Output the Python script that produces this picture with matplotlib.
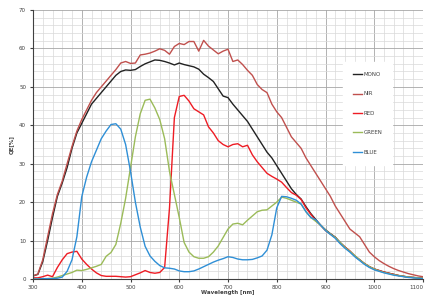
import matplotlib
matplotlib.use('Agg')
import matplotlib.pyplot as plt
import numpy as np

# wavelength grid [nm]
wl = list(range(300, 1110, 10))

tail = [11.8, 10.9, 9.5, 8.3, 7.2, 6.0, 5.0, 4.0, 3.2, 2.6,
        2.2, 1.8, 1.5, 1.2, 0.9, 0.7, 0.5, 0.4, 0.3, 0.2]

mono = [0.8, 1.2, 4.5, 10, 16, 21.5, 25, 29, 34, 38,
        40.5, 43, 45.5, 47, 48.5, 50, 51.5, 53, 54, 54.4,
        54.3, 54.5, 55.3, 56, 56.5, 57, 56.9, 56.6, 56.2, 55.7,
        56.2, 55.8, 55.5, 55.2, 54.6, 53.3, 52.4, 51.4, 49.5, 47.6,
        47.2, 45.5, 44, 42.5, 41, 39, 37, 35, 33, 31.5,
        29.5, 27.5, 25.5, 23.5, 22, 20.8, 18.8, 17, 15.5, 14,
        12.8] + tail

nir = [0.8, 1.3, 5, 11, 17, 22, 25.5, 30, 34.5, 38.5,
       41.5, 44, 46.5, 48.5, 50, 51.5, 53, 54.5, 56.2, 56.6,
       56.1, 56.2, 58.3, 58.5, 58.8, 59.3, 59.9, 59.5, 58.5, 60.5,
       61.3, 61, 61.8, 61.8, 59.3, 62.1, 60.6, 59.6, 58.6, 59.3,
       59.8, 56.6, 57, 55.8, 54.3, 53, 50.6, 49.3, 48.5, 45.5,
       43.5, 42, 39.5, 37, 35.5, 34, 31.5, 29.5, 27.5, 25.5,
       23.5, 21.5, 19, 17, 15, 13, 12, 11, 9, 7,
       5.8, 4.8, 4, 3.3, 2.7, 2.2, 1.8, 1.4, 1.1, 0.8, 0.6]

red = [0.3, 0.3, 0.6, 1.0, 0.6, 3, 5, 6.6, 7, 7.2,
       5.2, 3.8, 2.6, 1.6, 0.9, 0.7, 0.7, 0.7, 0.6, 0.5,
       0.6, 1.1, 1.6, 2.2, 1.7, 1.5, 1.7, 3, 18.5, 42,
       47.5, 47.8, 46.3, 44.3, 43.5, 42.7, 39.6, 38, 36, 35,
       34.4, 35, 35.2, 34.4, 34.8, 32.3, 30.5, 29, 27.5, 26.7,
       26, 25.2, 23.8, 22.5, 21.8, 20.7, 18.5, 16.8, 15.2, 14,
       12.6, 11.7, 10.8, 9.4, 8.3, 7.3, 6.0, 5.0, 4.0, 3.2,
       2.6, 2.2, 1.8, 1.5, 1.2, 0.9, 0.7, 0.5, 0.4, 0.3, 0.2]

green = [0, 0, 0, 0.1, 0.2, 0.5, 0.9, 1.3, 1.7, 2.3,
         2.2, 2.5, 2.9, 3.3, 3.8, 5.9, 6.9, 9.0, 14.5, 21,
         29, 37, 43, 46.5, 46.8, 44.5, 41.5, 36.5, 28, 22,
         16, 9.5, 7, 5.8, 5.4, 5.4, 5.8, 7, 8.6, 10.8,
         13, 14.3, 14.5, 14.1, 15.3, 16.4, 17.5, 17.9, 18, 19,
         20, 21.3, 21, 20.5, 20, 19.5, 17.5, 16, 15, 14,
         12.7, 11.7, 10.8, 9.5, 8.2, 7.2, 6.1, 5.0, 4.0, 3.2,
         2.6, 2.1, 1.7, 1.4, 1.1, 0.9, 0.7, 0.5, 0.4, 0.3, 0.2]

blue = [0, 0, 0.1, 0.1, 0.1, 0.2, 0.5, 2, 5, 11,
        21.4, 26.5, 30.5, 33.5, 36.5, 38.5, 40.2, 40.4, 39, 35,
        28, 20, 13.5, 8.5, 6, 4.6, 3.5, 2.9, 2.8, 2.6,
        2.1, 1.9, 1.9, 2.1, 2.6, 3.2, 3.8, 4.4, 4.9, 5.3,
        5.8, 5.6, 5.2, 5, 5, 5.1, 5.5, 6, 7.5, 11.5,
        18.5, 21.5, 21.4, 21, 20.5, 19.5, 17.5, 16, 15.4, 14,
        12.6, 11.6, 10.6, 9.2, 8.0, 7.0, 5.8, 4.8, 3.8, 3.0,
        2.4, 2.0, 1.6, 1.3, 1.0, 0.8, 0.6, 0.4, 0.3, 0.2, 0.1]

labels = ['MONO', 'NIR', 'RED', 'GREEN', 'BLUE']
colors = ['#222222', '#c0504d', '#ee1c24', '#9bbb59', '#2f8fd6']

fig = plt.figure(figsize=(4.27, 2.96), dpi=100)
ax = fig.add_axes([33/427, 17/296, 390/427, 269/296])

for y, lab, c in zip([mono, nir, red, green, blue], labels, colors):
    ax.plot(wl, y, color=c, lw=1.0, label=lab)

ax.set_xlim(300, 1100)
ax.set_ylim(0, 70)
ax.set_xticks(np.arange(300, 1101, 100))
ax.set_yticks(np.arange(0, 71, 10))
ax.set_xticks(np.arange(300, 1101, 20), minor=True)
ax.set_yticks(np.arange(0, 71, 2), minor=True)
ax.grid(which='major', color='#a6a6a6', lw=0.6)
ax.grid(which='minor', color='#d9d9d9', lw=0.5)
ax.set_axisbelow(True)
ax.tick_params(which='both', length=0, labelsize=4, colors='#404040')
ax.tick_params(which='major', length=2, color='#404040')
ax.tick_params(axis='x', pad=2)
ax.tick_params(axis='y', pad=3)

# keep the last x label inside the picture
ax.get_xticklabels()[-1].set_horizontalalignment('right')

for s in ['top', 'right']:
    ax.spines[s].set_visible(False)
for s in ['left', 'bottom']:
    ax.spines[s].set_color('#404040')
    ax.spines[s].set_linewidth(0.8)

ax.set_xlabel('Wavelength [nm]', fontsize=4, labelpad=0.5, fontweight='bold', color='#404040')
ax.set_ylabel('QE[%]', fontsize=4, labelpad=4, fontweight='bold', color='#404040')

leg = ax.legend(loc='upper left', bbox_to_anchor=(343/427, 1 - 62/296),
                bbox_transform=fig.transFigure, fontsize=4, frameon=True,
                fancybox=False, edgecolor='white', framealpha=1.0,
                borderpad=1.8, labelspacing=2.6, handlelength=1.7,
                handletextpad=0.2, borderaxespad=0)
for t in leg.get_texts():
    t.set_color('#404040')

fig.savefig('out.png', dpi=100)
